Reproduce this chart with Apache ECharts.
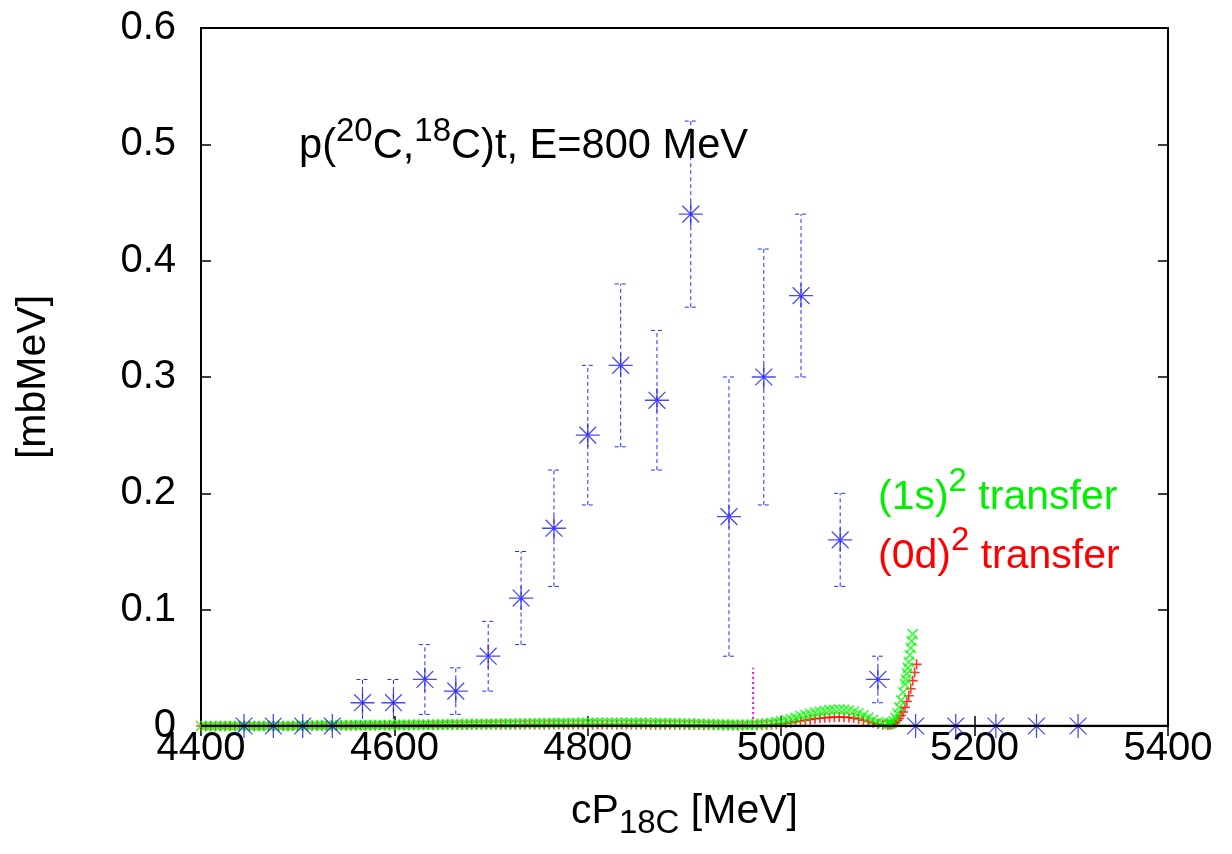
<!DOCTYPE html>
<html>
<head>
<meta charset="utf-8">
<script src="https://cdn.jsdelivr.net/npm/echarts/dist/echarts.min.js"></script>
<style>html,body{margin:0;padding:0;background:#fff}#c{width:1232px;height:854px}</style>
</head>
<body>
<div id="c"></div>
<script>
// ---------------- data ----------------
const xTickLabels = [4400, 4600, 4800, 5000, 5200, 5400];
const yTickLabels = [0, 0.1, 0.2, 0.3, 0.4, 0.5, 0.6];

// experimental points (blue asterisks) with error bars
const expX = [4444.5, 4474.8, 4505.2, 4535.8, 4567, 4599, 4631.5, 4663.5, 4697, 4731, 4765, 4800, 4834, 4871.5, 4906.5, 4946, 4982, 5020.5, 5061, 5100, 5139, 5180.5, 5222, 5264, 5307];
const expY = [0, 0, 0, 0, 0.02, 0.02, 0.04, 0.03, 0.06, 0.11, 0.17, 0.25, 0.31, 0.28, 0.44, 0.18, 0.30, 0.37, 0.16, 0.04, 0, 0, 0, 0, 0];
const errLo = [null, null, null, null, 0.0, 0.0, 0.01, 0.01, 0.03, 0.07, 0.12, 0.19, 0.24, 0.22, 0.36, 0.06, 0.19, 0.30, 0.12, 0.02, null, null, null, null, null];
const errHi = [null, null, null, null, 0.04, 0.04, 0.07, 0.05, 0.09, 0.15, 0.22, 0.31, 0.38, 0.34, 0.52, 0.30, 0.41, 0.44, 0.20, 0.06, null, null, null, null, null];

// magenta dotted bar
const magX = [4971, 4971];
const magY = [0.006, 0.05];

// calculated curves, common part of the momentum grid
const flatX = [
  4400,4405,4410,4415,4420,4425,4430,4435,4440,4445,4450,4455,4460,4465,4470,4475,4480,4485,4490,4495,
  4500,4505,4510,4515,4520,4525,4530,4535,4540,4545,4550,4555,4560,4565,4570,4575,4580,4585,4590,4595,
  4600,4605,4610,4615,4620,4625,4630,4635,4640,4645,4650,4655,4660,4665,4670,4675,4680,4685,4690,4695,
  4700,4705,4710,4715,4720,4725,4730,4735,4740,4745,4750,4755,4760,4765,4770,4775,4780,4785,4790,4795,
  4800,4805,4810,4815,4820,4825,4830,4835,4840,4845,4850,4855,4860,4865,4870,4875,4880,4885,4890,4895,
  4900,4905,4910,4915,4920,4925,4930,4935,4940,4945,4950,4955,4960,4965,4970,4975,4980,4985,4990,4995,
  5000,5005,5010,5015,5020,5025,5030,5035,5040,5045,5050,5055,5060,5065,5070,5075,5080,5085,5090,5095,5100,5105,5110
];
// (1s)^2 transfer, green
const greenFlatY = [
  0,0,0,0,0,0,0,0,0,0,0,0,0,0,0,0,0,0,0,0,
  0.0003,0.0003,0.0004,0.0004,0.0004,0.0005,0.0005,0.0005,0.0006,0.0006,0.0006,0.0007,0.0007,0.0007,0.0008,0.0008,0.0008,0.0009,0.0009,0.0009,
  0.001,0.001,0.001,0.0011,0.0011,0.0012,0.0012,0.0012,0.0013,0.0013,0.0014,0.0014,0.0015,0.0015,0.0015,0.0016,0.0016,0.0017,0.0017,0.0018,
  0.0018,0.0019,0.0019,0.002,0.002,0.0021,0.0021,0.0022,0.0022,0.0023,0.0023,0.0024,0.0024,0.0025,0.0025,0.0025,0.0026,0.0026,0.0026,0.0027,
  0.0027,0.0027,0.0028,0.0028,0.0028,0.0028,0.0028,0.0028,0.0028,0.0027,0.0027,0.0027,0.0026,0.0026,0.0025,0.0025,0.0024,0.0024,0.0023,0.0022,
  0.0021,0.002,0.0019,0.0018,0.0017,0.0016,0.0015,0.0014,0.0013,0.0012,0.0012,0.0011,0.0011,0.0012,0.0013,0.0015,0.0018,0.0022,0.0027,0.0033,
  0.004,0.005,0.006,0.007,0.0085,0.0095,0.0105,0.0115,0.0122,0.013,0.0136,0.014,0.0142,0.014,0.0135,0.0125,0.011,0.0092,0.0072,0.0052,0.0034,0.0023,0.0018
];
const greenRiseX = [5112, 5114, 5116, 5118, 5120, 5122, 5124, 5126, 5128, 5129, 5130, 5131, 5132, 5133, 5134, 5135, 5136];
const greenRiseY = [0.002, 0.0025, 0.004, 0.007, 0.011, 0.016, 0.022, 0.029, 0.036, 0.040, 0.045, 0.050, 0.055, 0.061, 0.067, 0.073, 0.079];
// (0d)^2 transfer, red
const redFlatY = [
  0,0,0,0,0,0,0,0,0,0,0,0,0,0,0,0,0,0,0,0,
  0.0001,0.0001,0.0002,0.0002,0.0002,0.0003,0.0003,0.0003,0.0003,0.0004,0.0004,0.0004,0.0004,0.0005,0.0005,0.0005,0.0005,0.0006,0.0006,0.0006,
  0.0006,0.0006,0.0007,0.0007,0.0007,0.0007,0.0008,0.0008,0.0008,0.0008,0.0008,0.0009,0.0009,0.0009,0.0009,0.0009,0.001,0.001,0.001,0.001,
  0.001,0.001,0.0011,0.0011,0.0011,0.0011,0.0011,0.0012,0.0012,0.0012,0.0012,0.0012,0.0012,0.0013,0.0013,0.0013,0.0013,0.0013,0.0013,0.0013,
  0.0013,0.0013,0.0013,0.0013,0.0013,0.0013,0.0013,0.0013,0.0012,0.0012,0.0012,0.0012,0.0012,0.0011,0.0011,0.0011,0.0011,0.001,0.001,0.001,
  0.0009,0.0009,0.0008,0.0008,0.0007,0.0007,0.0006,0.0006,0.0005,0.0005,0.0005,0.0005,0.0005,0.0006,0.0006,0.0007,0.0008,0.001,0.0012,0.0015,
  0.0018,0.0023,0.0029,0.0036,0.0043,0.005,0.0056,0.0062,0.0067,0.0071,0.0074,0.0076,0.0077,0.0076,0.0073,0.0068,0.006,0.005,0.0039,0.0027,0.0017,0.001,0.0008
];
const redRiseX = [5112, 5114, 5116, 5118, 5120, 5122, 5124, 5126, 5128, 5130, 5132, 5134, 5136, 5138, 5140];
const redRiseY = [0.001, 0.0013, 0.002, 0.003, 0.0045, 0.0065, 0.009, 0.012, 0.016, 0.021, 0.026, 0.032, 0.039, 0.046, 0.053];

// ---------------- chart ----------------
const FONT = '"Liberation Sans", Arial, Helvetica, sans-serif';
const SYM_X = 'path://M0,0L10,10M10,0L0,10';
const SYM_PLUS = 'path://M5,0L5,10M0,5L10,5';
const SYM_STAR = 'path://M10,0L10,20M0,10L20,10M3,3L17,17M17,3L3,17';

const pairs = (xs, ys) => xs.map((x, i) => [x, ys[i]]);
const greenData = pairs(flatX.concat(greenRiseX), greenFlatY.concat(greenRiseY));
const redData = pairs(flatX.concat(redRiseX), redFlatY.concat(redRiseY));
const expData = pairs(expX, expY);
const errData = [];
expX.forEach((x, i) => { if (errLo[i] !== null) errData.push([x, errLo[i], errHi[i]]); });

// rich styles: the main text sits at the bottom of a tall line, the superscript at its top
const richSup = (color, size) => ({
  m: { fontSize: size, fontFamily: FONT, fontWeight: 'normal', color: color, lineHeight: 53, verticalAlign: 'bottom' },
  s: { fontSize: 33, fontFamily: FONT, fontWeight: 'normal', color: color, lineHeight: 33, verticalAlign: 'top' }
});

const tickStyle = { inside: true, length: 10, lineStyle: { color: '#000', width: 1.5 } };
const xBase = { type: 'value', min: 4400, max: 5400, interval: 200, splitLine: { show: false } };
const yBase = { type: 'value', min: 0, max: 0.6, interval: 0.1, splitLine: { show: false } };

const chart = echarts.init(document.getElementById('c'), null, { renderer: 'canvas' });
chart.setOption({
  animation: false,
  backgroundColor: '#fff',
  title: [
    { text: '{m|p(}{s|20}{m|C,}{s|18}{m|C)t, E=800 MeV}', left: 299, top: 115, padding: 0,
      textStyle: { fontWeight: 'normal', rich: richSup('#000', 41.6) } },
    { text: '{m|(1s)}{s|2}{m| transfer}', left: 878, top: 465, padding: 0,
      textStyle: { fontWeight: 'normal', rich: richSup('#00f000', 41) } },
    { text: '{m|(0d)}{s|2}{m| transfer}', left: 878, top: 524, padding: 0,
      textStyle: { fontWeight: 'normal', rich: richSup('#ff0000', 41) } }
  ],
  grid: { left: 201, top: 28, width: 967, height: 698, show: true, borderColor: '#000', borderWidth: 2, backgroundColor: 'transparent' },
  xAxis: [
    Object.assign({}, xBase, {
      position: 'bottom',
      axisLine: { show: true, onZero: false, lineStyle: { color: '#000', width: 2 } },
      axisTick: tickStyle,
      axisLabel: { margin: 3, fontSize: 40, lineHeight: 40, fontFamily: FONT, color: '#000',
        formatter: v => String(xTickLabels.find(t => Math.abs(t - v) < 1e-6) ?? v) },
      name: '{m|cP}{sub|18C}{m| [MeV]}',
      nameLocation: 'middle', nameGap: 65,
      nameTextStyle: { rich: {
        m: { fontSize: 41, fontFamily: FONT, color: '#000', lineHeight: 41, verticalAlign: 'top' },
        sub: { fontSize: 33, fontFamily: FONT, color: '#000', lineHeight: 49, verticalAlign: 'bottom' }
      } }
    }),
    Object.assign({}, xBase, {
      position: 'top',
      axisLine: { show: false },
      axisTick: tickStyle,
      axisLabel: { show: false }
    })
  ],
  yAxis: [
    Object.assign({}, yBase, {
      position: 'left',
      axisLine: { show: true, onZero: false, lineStyle: { color: '#000', width: 2 } },
      axisTick: tickStyle,
      axisLabel: { margin: 25, fontSize: 40, fontFamily: FONT, color: '#000',
        formatter: v => { const t = yTickLabels.find(t => Math.abs(t - v) < 1e-9); return t === 0 ? '0' : t.toFixed(1); } },
      name: '[mbMeV]', nameLocation: 'middle', nameGap: 147, nameRotate: 90,
      nameTextStyle: { fontSize: 41, fontFamily: FONT, color: '#000' }
    }),
    Object.assign({}, yBase, {
      position: 'right',
      axisLine: { show: false },
      axisTick: tickStyle,
      axisLabel: { show: false }
    })
  ],
  series: [
    {
      type: 'custom', name: 'errors', silent: true, z: 3, clip: false,
      data: errData,
      renderItem: (params, api) => {
        const x = api.value(0), lo = api.value(1), hi = api.value(2);
        const a = api.coord([x, lo]), b = api.coord([x, hi]);
        const cap = 6;
        const st = { stroke: '#1f2fff', lineWidth: 1, lineDash: [4, 3], fill: null };
        return { type: 'group', children: [
          { type: 'line', shape: { x1: a[0], y1: a[1], x2: b[0], y2: b[1] }, style: st },
          { type: 'line', shape: { x1: a[0] - cap, y1: a[1], x2: a[0] + cap, y2: a[1] }, style: st },
          { type: 'line', shape: { x1: b[0] - cap, y1: b[1], x2: b[0] + cap, y2: b[1] }, style: st }
        ] };
      }
    },
    {
      type: 'line', name: 'magenta', silent: true, z: 3,
      data: pairs(magX, magY), symbol: 'none',
      lineStyle: { color: '#ff00ff', width: 2, type: [2, 3] }
    },
    {
      type: 'scatter', name: '(0d)2 transfer', silent: true, z: 4, clip: false,
      data: redData, symbol: SYM_PLUS, symbolSize: 10,
      itemStyle: { color: 'rgba(0,0,0,0)', borderColor: '#ff0000', borderWidth: 1.6 }
    },
    {
      type: 'scatter', name: '(1s)2 transfer', silent: true, z: 5, clip: false,
      data: greenData, symbol: SYM_X, symbolSize: 10,
      itemStyle: { color: 'rgba(0,0,0,0)', borderColor: '#00ff00', borderWidth: 1.6 }
    },
    {
      type: 'scatter', name: 'data', silent: true, z: 6, clip: false,
      data: expData, symbol: SYM_STAR, symbolSize: 24,
      itemStyle: { color: 'rgba(0,0,0,0)', borderColor: '#1a1aff', borderWidth: 1.3 }
    },
    {
      type: 'line', name: 'zero', silent: true, z: 10,
      data: [[4400, 0], [5400, 0]], symbol: 'none',
      lineStyle: { color: '#000', width: 2.5 }
    }
  ]
});
</script>
</body>
</html>
